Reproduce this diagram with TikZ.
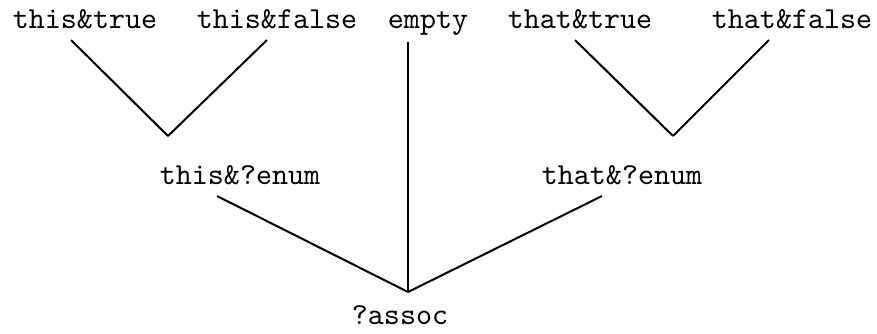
\documentclass[tikz,border=0pt]{standalone}
\usepackage{fontspec}
\newfontfamily\mytt{lmmono10-regular.otf}
\tikzset{
  lab/.style={font=\mytt\fontsize{30.5pt}{34pt}\selectfont, inner sep=0pt, anchor=base},
  edge/.style={line width=2pt, black}
}
\begin{document}
\begin{tikzpicture}[x=1pt,y=-1pt]
\useasboundingbox (0,0) rectangle (877,333);
% labels
\node[lab] (ttrue)   at (85,28)  {this\&true};
\node[lab] (tfalse)  at (277,28) {this\&false};
\node[lab] (empty)   at (428,28) {empty};
\node[lab] (htrue)   at (580,28) {that\&true};
\node[lab] (hfalse)  at (792,28) {that\&false};
\node[lab] (tenum)   at (240,184) {this\&?enum};
\node[lab] (henum)   at (622,184) {that\&?enum};
\node[lab] (assoc)   at (400,324) {?assoc};
% junctions
\coordinate (tj) at (168,136);
\coordinate (hj) at (673,136);
\coordinate (root) at (408,292);
% connectors
\draw[edge] ([xshift=-14pt,yshift=-12pt]ttrue.base) -- (tj);
\draw[edge] ([xshift=-10pt,yshift=-12pt]tfalse.base) -- (tj);
\draw[edge] ([xshift=-5pt,yshift=-12pt]htrue.base) -- (hj);
\draw[edge] ([xshift=-23pt,yshift=-12pt]hfalse.base) -- (hj);
\draw[edge] ([xshift=-20pt,yshift=-14pt]empty.base) -- (root);
\draw[edge] ([xshift=-23pt,yshift=-12pt]tenum.base) -- (root);
\draw[edge] ([xshift=-20pt,yshift=-12pt]henum.base) -- (root);
\end{tikzpicture}
\end{document}
